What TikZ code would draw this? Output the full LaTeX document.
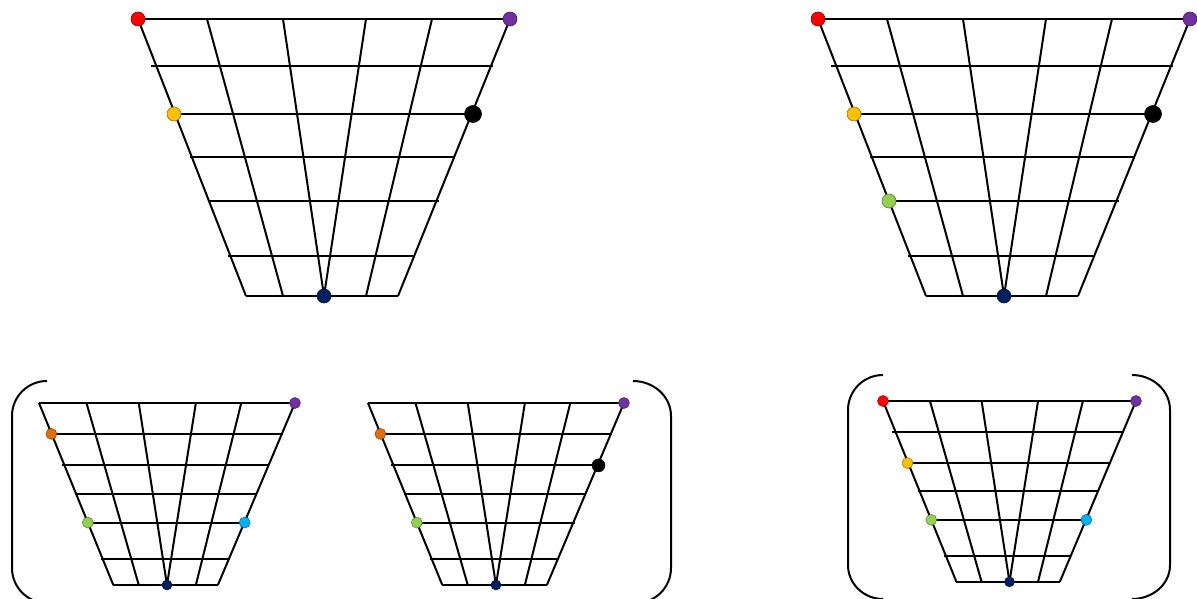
\documentclass[tikz,border=0pt]{standalone}
\begin{document}
\begin{tikzpicture}[x=1pt,y=-1pt,
  gl/.style={line width=2pt},
  br/.style={line width=2pt},
  dot/.style={circle, fill=#1, draw=#1!60!black, line width=0.6pt, inner sep=0pt, minimum size=14pt},
  sdot/.style={circle, fill=#1, draw=#1!60!black, line width=0.5pt, inner sep=0pt, minimum size=11pt}]
\definecolor{cred}{HTML}{FF0000}
\definecolor{cpurple}{HTML}{7030A0}
\definecolor{cyellow}{HTML}{FFC000}
\definecolor{cnavy}{HTML}{002060}
\definecolor{cgreen}{HTML}{92D050}
\definecolor{corange}{HTML}{E36C09}
\definecolor{ccyan}{HTML}{00B0F0}
\definecolor{cblack}{HTML}{000000}
\useasboundingbox (0,0) rectangle (1197,599);
\clip (0,0) rectangle (1197,599);
\newcommand{\trapgrid}{%
 \draw[gl] (0,0) -- (372,0);
 \draw[gl] (13,47) -- (355,47);
 \draw[gl] (34,95) -- (335,95);
 \draw[gl] (52,138) -- (317,138);
 \draw[gl] (70,182) -- (301,182);
 \draw[gl] (90,237) -- (275,237);
 \draw[gl] (108,277) -- (260,277);
 \draw[gl] (0,0) -- (108,277);
 \draw[gl] (372,0) -- (260,277);
 \draw[gl] (69,0) -- (145,277);
 \draw[gl] (145,0) -- (186,277);
 \draw[gl] (228,0) -- (186,277);
 \draw[gl] (294,0) -- (228,277);
 \coordinate (TL) at (0,0);
 \coordinate (TR) at (372,0);
 \coordinate (L1) at (18,47);
 \coordinate (L2) at (36,95);
 \coordinate (R2) at (335,95);
 \coordinate (L4) at (71,182);
 \coordinate (R4) at (299,182);
 \coordinate (B) at (186,277);
}
% top left grid
\begin{scope}[shift={(138,19)}]
 \trapgrid
 \node[dot=cred] (a-red) at (TL) {};
 \node[dot=cpurple] (a-purple) at (TR) {};
 \node[dot=cyellow] (a-yellow) at (L2) {};
 \node[dot=cblack, minimum size=17pt] (a-black) at (R2) {};
 \node[dot=cnavy] (a-navy) at (B) {};
\end{scope}
% top right grid
\begin{scope}[shift={(818,19)}]
 \trapgrid
 \node[dot=cred] (b-red) at (TL) {};
 \node[dot=cpurple] (b-purple) at (TR) {};
 \node[dot=cyellow] (b-yellow) at (L2) {};
 \node[dot=cblack, minimum size=17pt] (b-black) at (R2) {};
 \node[dot=cgreen] (b-green) at (L4) {};
 \node[dot=cnavy] (b-navy) at (B) {};
\end{scope}
% bottom left grid
\begin{scope}[shift={(39,403)}, xscale=0.688, yscale=0.657]
 \trapgrid
 \node[sdot=cpurple] (c-purple) at (TR) {};
 \node[sdot=corange] (c-orange) at (L1) {};
 \node[sdot=cgreen] (c-green) at (L4) {};
 \node[sdot=ccyan] (c-cyan) at (R4) {};
 \node[sdot=cnavy, minimum size=10pt] (c-navy) at (B) {};
\end{scope}
% bottom middle grid
\begin{scope}[shift={(368,403)}, xscale=0.688, yscale=0.657]
 \trapgrid
 \node[sdot=cpurple] (d-purple) at (TR) {};
 \node[sdot=corange] (d-orange) at (L1) {};
 \node[sdot=cblack, minimum size=13pt] (d-black) at (R2) {};
 \node[sdot=cgreen] (d-green) at (L4) {};
 \node[sdot=cnavy, minimum size=10pt] (d-navy) at (B) {};
\end{scope}
% bottom right grid
\begin{scope}[shift={(883,401)}, xscale=0.68, yscale=0.653]
 \trapgrid
 \node[sdot=cred] (e-red) at (TL) {};
 \node[sdot=cpurple] (e-purple) at (TR) {};
 \node[sdot=cyellow] (e-yellow) at (L2) {};
 \node[sdot=cgreen] (e-green) at (L4) {};
 \node[sdot=ccyan] (e-cyan) at (R4) {};
 \node[sdot=cnavy, minimum size=10pt] (e-navy) at (B) {};
\end{scope}
% brackets
\draw[br] (47,381) to[out=180,in=90] (12,416) -- (12,568) to[out=-90,in=180] (47,603);
\draw[br] (633,381) to[out=0,in=90] (671,416) -- (671,568) to[out=-90,in=0] (636,603);
\draw[br] (883,375) to[out=180,in=90] (848,410) -- (848,565) to[out=-90,in=180] (883,599);
\draw[br] (1132,375) to[out=0,in=90] (1170,410) -- (1170,565) to[out=-90,in=0] (1132,599);
\end{tikzpicture}
\end{document}
